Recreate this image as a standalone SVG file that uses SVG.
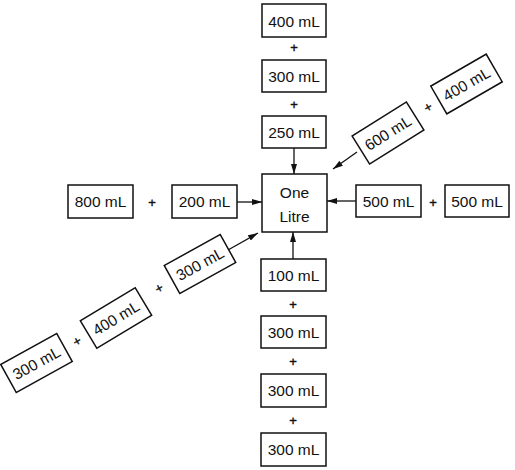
<svg xmlns="http://www.w3.org/2000/svg" width="515" height="470" viewBox="0 0 515 470">
<defs>
<style>
.b{fill:#fff;stroke:#111;stroke-width:1.5}
.t{font-family:"Liberation Sans",Arial,sans-serif;font-size:15.5px;fill:#111;text-anchor:middle}
.p{font-family:"Liberation Sans",Arial,sans-serif;font-size:13px;fill:#111;stroke:#111;stroke-width:0.4;text-anchor:middle}
.c{stroke:#111;stroke-width:1.3;fill:none;marker-end:url(#ah)}
</style>
<marker id="ah" viewBox="0 0 10 6" refX="10" refY="3" markerWidth="10" markerHeight="6" markerUnits="userSpaceOnUse" orient="auto">
<path d="M0,0 L10,3 L0,6 z" fill="#111"/>
</marker>
</defs>
<rect width="515" height="470" fill="#fff"/>
<g id="connectors">
<line class="c" x1="294" y1="148" x2="294" y2="174"/>
<line class="c" x1="237" y1="202" x2="262" y2="202"/>
<line class="c" x1="356" y1="201" x2="327" y2="201"/>
<line class="c" x1="293" y1="259" x2="293" y2="232"/>
<line class="c" x1="357" y1="152" x2="333" y2="169"/>
<line class="c" x1="228" y1="250" x2="258" y2="233"/>
</g>
<g id="one-litre">
<rect class="b" x="262" y="174" width="65" height="58"/>
<text class="t" x="294.5" y="198">One</text>
<text class="t" x="294.5" y="221.5">Litre</text>
</g>
<g id="top-400"><rect class="b" x="262" y="4" width="64" height="33"/><text class="t" x="294" y="26.5">400 mL</text></g>
<text class="p" x="294" y="51.5">+</text>
<g id="top-300"><rect class="b" x="262" y="60" width="64" height="32"/><text class="t" x="294" y="81.5">300 mL</text></g>
<text class="p" x="294" y="108.5">+</text>
<g id="top-250"><rect class="b" x="262" y="116" width="64" height="32"/><text class="t" x="294" y="137.5">250 mL</text></g>
<g id="left-800"><rect class="b" x="68" y="185" width="65" height="33"/><text class="t" x="100.5" y="207">800 mL</text></g>
<text class="p" x="152" y="206.5">+</text>
<g id="left-200"><rect class="b" x="172" y="185" width="65" height="33"/><text class="t" x="204.5" y="207">200 mL</text></g>
<g id="right-500a"><rect class="b" x="356" y="185" width="65" height="32"/><text class="t" x="388.5" y="206.5">500 mL</text></g>
<text class="p" x="433" y="206.5">+</text>
<g id="right-500b"><rect class="b" x="445" y="185" width="64" height="32"/><text class="t" x="477" y="206.5">500 mL</text></g>
<g id="bottom-100"><rect class="b" x="261" y="259" width="65" height="32"/><text class="t" x="293.5" y="280.5">100 mL</text></g>
<text class="p" x="293" y="308.5">+</text>
<g id="bottom-300a"><rect class="b" x="261" y="316" width="65" height="32"/><text class="t" x="293.5" y="337.5">300 mL</text></g>
<text class="p" x="293" y="365.5">+</text>
<g id="bottom-300b"><rect class="b" x="261" y="374" width="65" height="33"/><text class="t" x="293.5" y="396">300 mL</text></g>
<text class="p" x="293" y="424.5">+</text>
<g id="bottom-300c"><rect class="b" x="261" y="433" width="65" height="33"/><text class="t" x="293.5" y="455">300 mL</text></g>
<g id="ur-600" transform="translate(388,133) rotate(-32)"><rect class="b" x="-32" y="-16.5" width="64" height="33"/><text class="t" x="0" y="5.5">600 mL</text></g>
<text class="p" transform="translate(428,107) rotate(-30)" x="0" y="4.6">+</text>
<g id="ur-400" transform="translate(466.5,84) rotate(-30)"><rect class="b" x="-32" y="-16" width="64" height="32"/><text class="t" x="0" y="5.5">400 mL</text></g>
<g id="ll-300a" transform="translate(36.5,363) rotate(-29)"><rect class="b" x="-32" y="-16" width="64" height="32"/><text class="t" x="0" y="5.5">300 mL</text></g>
<text class="p" transform="translate(77,341) rotate(-30)" x="0" y="4.6">+</text>
<g id="ll-400" transform="translate(116,318) rotate(-31)"><rect class="b" x="-32" y="-16" width="64" height="32"/><text class="t" x="0" y="5.5">400 mL</text></g>
<text class="p" transform="translate(159,288) rotate(-30)" x="0" y="4.6">+</text>
<g id="ll-300b" transform="translate(200,264) rotate(-29)"><rect class="b" x="-32" y="-16" width="64" height="32"/><text class="t" x="0" y="5.5">300 mL</text></g>
</svg>
